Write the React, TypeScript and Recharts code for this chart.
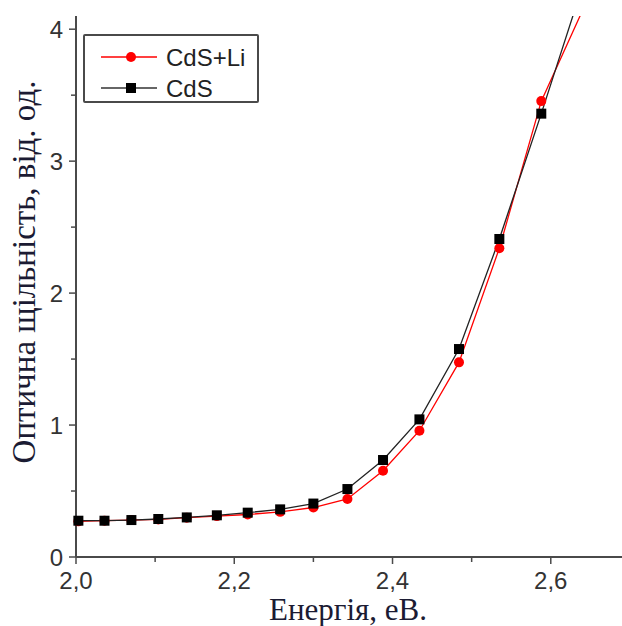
import { LineChart, Line, XAxis, YAxis, Legend } from 'recharts';

// photon energy, eV
const energy = [2.003, 2.036, 2.07, 2.104, 2.14, 2.178, 2.217, 2.258, 2.3, 2.343, 2.388, 2.434, 2.484, 2.535, 2.588, 2.643];
// optical density, CdS doped with Li
const cdsLi = [0.27, 0.275, 0.28, 0.285, 0.298, 0.31, 0.322, 0.342, 0.375, 0.44, 0.654, 0.957, 1.475, 2.34, 3.455, 4.18];
// optical density, pure CdS
const cds = [0.275, 0.275, 0.28, 0.288, 0.3, 0.316, 0.336, 0.361, 0.405, 0.515, 0.735, 1.043, 1.576, 2.41, 3.36, 4.38];

const xTicks = [2.0, 2.1, 2.2, 2.3, 2.4, 2.5, 2.6];
const yTicks = [0, 0.5, 1, 1.5, 2, 2.5, 3, 3.5, 4];

const seriesNames = ['CdS+Li', 'CdS'];

const data = energy.map((e, i) => ({ e, li: cdsLi[i], cds: cds[i] }));

const AXIS = '#4a4a4a';
const SANS = '"Liberation Sans", Arial, sans-serif';
const SERIF = '"Liberation Serif", "Times New Roman", serif';

// eslint-disable-next-line @typescript-eslint/no-explicit-any
const XTick = (props: any) => {
  const { x, y, payload } = props;
  const v = payload.value;
  const major = Math.round(v * 10) % 2 === 0;
  return (
    <g>
      <line x1={x} x2={x} y1={y} y2={y + (major ? 7 : 5)} stroke={AXIS} strokeWidth={1.5} />
      {major && (
        <text x={x} y={y + 32} textAnchor="middle" fontFamily={SANS} fontSize={24} fill="#333">
          {v.toFixed(1).replace('.', ',')}
        </text>
      )}
    </g>
  );
};

// eslint-disable-next-line @typescript-eslint/no-explicit-any
const YTick = (props: any) => {
  const { x, y, payload } = props;
  const v = payload.value;
  const major = Number.isInteger(v);
  return (
    <g>
      <line x1={x} x2={x - (major ? 7 : 5)} y1={y} y2={y} stroke={AXIS} strokeWidth={1.5} />
      {major && (
        <text x={x - 13} y={y + 9} textAnchor="end" fontFamily={SANS} fontSize={24} fill="#333">
          {v}
        </text>
      )}
    </g>
  );
};

// eslint-disable-next-line @typescript-eslint/no-explicit-any
const RedDot = (props: any) => {
  const { cx, cy, index } = props;
  if (cx == null || cy == null) return <g key={`r-${index}`} />;
  return <circle key={`r-${index}`} cx={cx} cy={cy} r={5} fill="#ff0000" />;
};

// eslint-disable-next-line @typescript-eslint/no-explicit-any
const BlackDot = (props: any) => {
  const { cx, cy, index } = props;
  if (cx == null || cy == null) return <g key={`b-${index}`} />;
  return <rect key={`b-${index}`} x={cx - 5} y={cy - 5} width={10} height={10} fill="#000" />;
};

const renderLegend = () => (
  <div
    style={{
      width: 176,
      height: 69,
      boxSizing: 'border-box',
      border: `2px solid ${AXIS}`,
      borderRadius: 2,
      background: '#fff',
    }}
  >
    <svg width={172} height={65}>
      <line x1={16} x2={72} y1={21} y2={21} stroke="#ff0000" strokeWidth={1.5} />
      <circle cx={46} cy={21} r={5} fill="#ff0000" />
      <text x={81} y={30} fontFamily={SANS} fontSize={24} fill="#222">{seriesNames[0]}</text>
      <line x1={16} x2={72} y1={52} y2={52} stroke="#333" strokeWidth={1.5} />
      <rect x={41} y={47} width={10} height={10} fill="#000" />
      <text x={81} y={61} fontFamily={SANS} fontSize={24} fill="#222">{seriesNames[1]}</text>
    </svg>
  </div>
);

export default function App() {
  return (
    <div style={{ position: 'absolute', left: 0, top: 0, width: 622, height: 626, background: '#fff' }}>
      <LineChart width={622} height={626} data={data} margin={{ top: 16, right: 0, bottom: 0, left: 0 }}>
        <XAxis
          dataKey="e"
          type="number"
          domain={[2.0, 2.69]}
          ticks={xTicks}
          height={69}
          tickSize={0}
          tickMargin={0}
          tickLine={false}
          tick={<XTick />}
          axisLine={{ stroke: AXIS, strokeWidth: 2 }}
          interval={0}
        />
        <YAxis
          type="number"
          domain={[0, 4.1]}
          allowDataOverflow
          ticks={yTicks}
          width={76}
          tickSize={0}
          tickMargin={0}
          tickLine={false}
          tick={<YTick />}
          axisLine={{ stroke: AXIS, strokeWidth: 2 }}
          interval={0}
        />
        <Legend
          layout="vertical"
          align="center"
          verticalAlign="middle"
          content={renderLegend}
          wrapperStyle={{ left: 83, top: 34, width: 176, height: 69 }}
        />
        <Line
          dataKey="li"
          name={seriesNames[0]}
          stroke="#ff0000"
          strokeWidth={1.3}
          dot={<RedDot />}
          activeDot={false}
          isAnimationActive={false}
        />
        <Line
          dataKey="cds"
          name={seriesNames[1]}
          stroke="#222"
          strokeWidth={1.3}
          dot={<BlackDot />}
          activeDot={false}
          isAnimationActive={false}
        />
        <text x={348} y={620} textAnchor="middle" fontFamily={SERIF} fontSize={31} fill="#1b1b33">
          Енергія, еВ.
        </text>
        <text
          x={35}
          y={272}
          transform="rotate(-90, 35, 272)"
          textAnchor="middle"
          fontFamily={SERIF}
          fontSize={33}
          fill="#1b1b33"
        >
          Оптична щільність, від. од.
        </text>
      </LineChart>
    </div>
  );
}
